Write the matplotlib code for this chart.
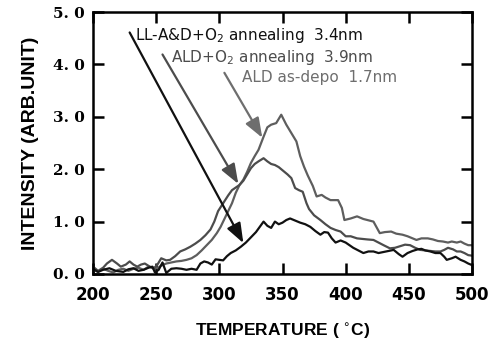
import numpy as np
import matplotlib.pyplot as plt

# temperature (C) / intensity (arb. unit)
t_ll = [200, 204, 208, 213, 218, 224, 228, 232, 236, 240, 244, 247, 249, 252, 255, 258,
        262, 266, 270, 274, 278, 282, 285, 288, 291, 294, 297, 300, 303, 306, 309, 313,
        317, 321, 325, 329, 332, 335, 338, 341, 344, 347, 350, 353, 356, 360, 364, 368,
        372, 376, 380, 383, 386, 389, 392, 396, 400, 403, 406, 410, 414, 418, 422, 426,
        430, 434, 438, 442, 445, 449, 453, 457, 460, 463, 467, 471, 475, 478, 480, 484,
        487, 491, 494, 497, 500]
i_ll = [0.10, 0.04, 0.08, 0.11, 0.06, 0.04, 0.09, 0.11, 0.06, 0.08, 0.12, 0.14, 0.03, 0.08,
        0.22, 0.02, 0.10, 0.11, 0.10, 0.08, 0.10, 0.08, 0.20, 0.24, 0.22, 0.18, 0.28, 0.27,
        0.26, 0.34, 0.40, 0.45, 0.52, 0.60, 0.70, 0.80, 0.90, 1.00, 0.92, 0.88, 1.00, 0.95,
        0.98, 1.03, 1.06, 1.02, 0.98, 0.95, 0.90, 0.82, 0.75, 0.80, 0.79, 0.68, 0.60, 0.64,
        0.60, 0.55, 0.50, 0.45, 0.40, 0.43, 0.43, 0.40, 0.42, 0.44, 0.46, 0.38, 0.33, 0.40,
        0.44, 0.47, 0.48, 0.45, 0.43, 0.40, 0.40, 0.33, 0.27, 0.30, 0.33, 0.27, 0.24, 0.20,
        0.17]

t_o2 = [200, 204, 208, 211, 215, 219, 222, 226, 229, 232, 235, 238, 241, 245, 248, 251,
        254, 258, 261, 265, 269, 273, 277, 281, 285, 289, 293, 296, 299, 303, 307, 310,
        313, 316, 319, 322, 325, 328, 331, 335, 338, 341, 344, 347, 351, 354, 357, 360,
        363, 366, 369, 371, 375, 380, 384, 388, 392, 396, 400, 404, 409, 413, 417, 422,
        426, 430, 435, 439, 443, 447, 451, 455, 459, 463, 467, 471, 475, 478, 481, 485,
        488, 491, 494, 497, 500]
i_o2 = [0.14, 0.06, 0.12, 0.20, 0.27, 0.20, 0.14, 0.18, 0.24, 0.18, 0.14, 0.18, 0.20, 0.14,
        0.10, 0.18, 0.30, 0.26, 0.27, 0.34, 0.43, 0.47, 0.52, 0.58, 0.65, 0.74, 0.85, 1.00,
        1.20, 1.35, 1.50, 1.60, 1.65, 1.70, 1.78, 1.90, 2.02, 2.10, 2.15, 2.21, 2.15, 2.10,
        2.08, 2.04, 1.96, 1.90, 1.83, 1.64, 1.60, 1.57, 1.35, 1.24, 1.12, 1.03, 0.95, 0.88,
        0.84, 0.81, 0.72, 0.72, 0.68, 0.67, 0.66, 0.65, 0.60, 0.55, 0.49, 0.50, 0.53, 0.56,
        0.55, 0.50, 0.46, 0.45, 0.44, 0.43, 0.43, 0.46, 0.50, 0.47, 0.43, 0.43, 0.40, 0.36,
        0.35]

t_dep = [200, 204, 208, 212, 216, 220, 224, 228, 232, 236, 240, 244, 248, 251, 254, 258,
         262, 266, 270, 274, 278, 282, 286, 290, 294, 298, 301, 304, 307, 310, 313, 316,
         319, 322, 325, 328, 331, 335, 338, 341, 345, 349, 353, 357, 361, 364, 367, 370,
         374, 377, 381, 384, 388, 394, 397, 399, 404, 409, 414, 422, 427, 431, 436, 440,
         445, 449, 453, 456, 460, 465, 469, 473, 477, 481, 484, 488, 491, 494, 497, 500]
i_dep = [0.08, 0.04, 0.10, 0.06, 0.03, 0.08, 0.10, 0.06, 0.10, 0.12, 0.08, 0.14, 0.12, 0.11,
         0.16, 0.20, 0.22, 0.24, 0.25, 0.27, 0.30, 0.36, 0.45, 0.55, 0.65, 0.78, 0.90, 1.05,
         1.20, 1.35, 1.55, 1.70, 1.80, 1.95, 2.12, 2.25, 2.37, 2.62, 2.80, 2.85, 2.88, 3.04,
         2.85, 2.69, 2.53, 2.25, 2.05, 1.88, 1.68, 1.48, 1.51, 1.46, 1.41, 1.41, 1.26, 1.03,
         1.06, 1.10, 1.05, 1.00, 0.78, 0.80, 0.81, 0.77, 0.75, 0.72, 0.68, 0.65, 0.68, 0.68,
         0.66, 0.63, 0.62, 0.60, 0.62, 0.60, 0.62, 0.58, 0.55, 0.55]

x_ticks = [200, 250, 300, 350, 400, 450, 500]
y_ticks = [0, 1, 2, 3, 4, 5]
y_labels = ['0. 0', '1. 0', '2. 0', '3. 0', '4. 0', '5. 0']

fig = plt.figure(figsize=(4.99, 3.44), dpi=100)
ax = fig.add_axes([0.1864, 0.2035, 0.7595, 0.7615])

ax.plot(t_dep, i_dep, color='#5e5e5e', lw=1.6)
ax.plot(t_o2, i_o2, color='#4c4c4c', lw=1.6)
ax.plot(t_ll, i_ll, color='#111111', lw=1.6)

ax.set_xlim(200, 500)
ax.set_ylim(0, 5)
ax.set_xticks(x_ticks)
ax.set_yticks(y_ticks)
ax.set_yticklabels(y_labels, family='DejaVu Serif', fontweight='bold', fontsize=11)
ax.set_xticklabels([str(v) for v in x_ticks], family='DejaVu Sans', fontweight='bold', fontsize=12)
ax.tick_params(axis='both', direction='in', length=8, width=1.8, top=True, right=True)
ax.tick_params(axis='x', pad=9)
ax.tick_params(axis='y', pad=6)
for s in ax.spines.values():
    s.set_linewidth(1.8)

ax.set_xlabel('TEMPERATURE ( $^{\\circ}$C)', family='Liberation Sans', fontweight='bold',
              fontsize=12.5, labelpad=12)
ax.set_ylabel('INTENSITY (ARB.UNIT)', family='Liberation Sans', fontweight='bold',
              fontsize=14, labelpad=10)

# labels with arrows
labels = ['LL-A&D+O$_2$ annealing  3.4nm', 'ALD+O$_2$ annealing  3.9nm', 'ALD as-depo  1.7nm']
label_pos = [(233, 4.47), (262, 4.05), (318, 3.66)]
arrow_from = [(229, 4.61), (255, 4.19), (304, 3.84)]
arrow_to = [(319, 0.59), (315, 1.72), (334, 2.60)]
colors = ['#111111', '#4c4c4c', '#6e6e6e']
for lab, pos, a0, a1, c in zip(labels, label_pos, arrow_from, arrow_to, colors):
    ax.text(pos[0], pos[1], lab, color=c, fontsize=11, va='baseline', ha='left')
    ax.annotate('', xy=a1, xytext=a0,
                arrowprops=dict(arrowstyle='-|>,head_length=1.2,head_width=0.45',
                                color=c, lw=1.6, shrinkA=0, shrinkB=0))

fig.savefig('out.png', dpi=100)
